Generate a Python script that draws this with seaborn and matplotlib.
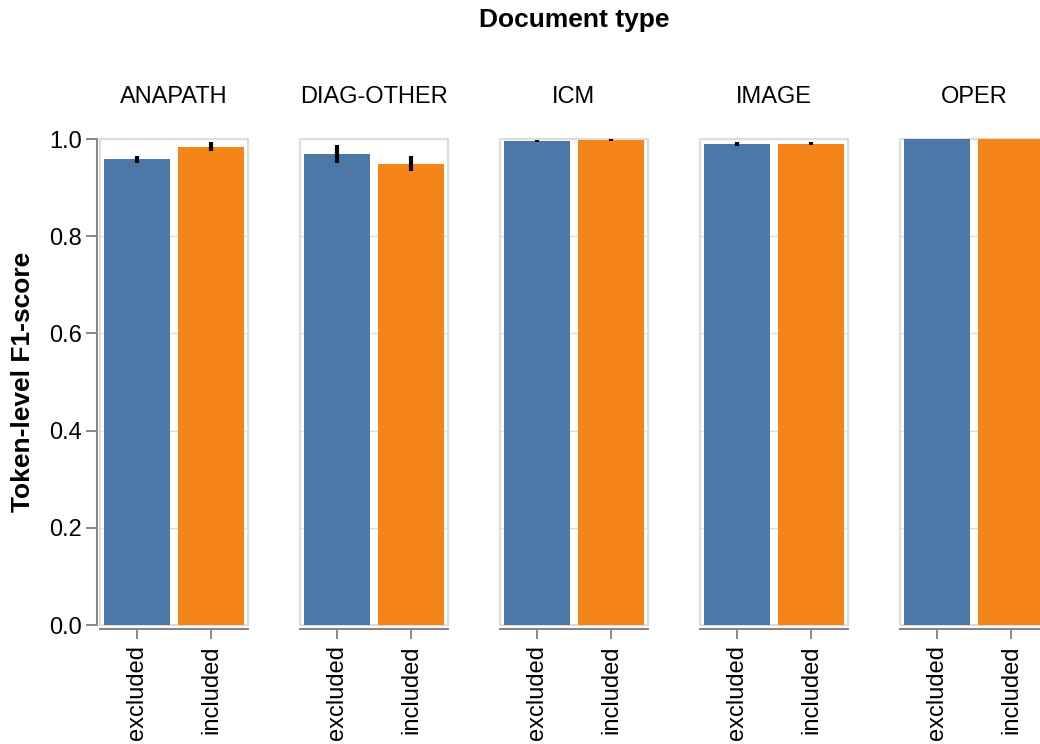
import matplotlib
matplotlib.use("Agg")
import matplotlib.pyplot as plt
from matplotlib.patches import Rectangle
import seaborn as sns
import pandas as pd

# Mean token-level F1 per document type, with confidence interval bounds
doc_types = ["ANAPATH", "DIAG-OTHER", "ICM", "IMAGE", "OPER"]
conditions = ["excluded", "included"]
f1_excluded = [0.959, 0.969, 0.996, 0.990, 1.000]
f1_included = [0.984, 0.949, 0.998, 0.990, 1.000]
ci_low_excluded = [0.951, 0.950, 0.994, 0.986, 1.000]
ci_high_excluded = [0.965, 0.988, 0.998, 0.994, 1.000]
ci_low_included = [0.976, 0.934, 0.996, 0.987, 1.000]
ci_high_included = [0.993, 0.965, 1.000, 0.993, 1.000]

colors = {"excluded": "#4c78a8", "included": "#f58518"}

sns.set_theme(style="white")
plt.rcParams["font.family"] = ["Liberation Sans", "DejaVu Sans"]
plt.rcParams["text.color"] = "black"
plt.rcParams["axes.labelcolor"] = "black"
plt.rcParams["axes.titlecolor"] = "black"

W, H = 1040, 744
fig = plt.figure(figsize=(W / 100, H / 100), dpi=100)

panel_w, panel_h = 148, 486
panel_top, first_left, step = 139, 100, 200

AXIS_GREY = "#888888"
FRAME_GREY = "#dddddd"

for i, dt in enumerate(doc_types):
    left = first_left + i * step
    ax = fig.add_axes([left / W, (H - panel_top - panel_h) / H, panel_w / W, panel_h / H])
    df = pd.DataFrame({
        "condition": conditions,
        "f1": [f1_excluded[i], f1_included[i]],
        "lo": [ci_low_excluded[i], ci_low_included[i]],
        "hi": [ci_high_excluded[i], ci_high_included[i]],
    })
    sns.barplot(data=df, x="condition", y="f1", hue="condition", order=conditions,
                hue_order=conditions, palette=colors, errorbar=None, width=0.9,
                saturation=1, legend=False, linewidth=0, ax=ax, zorder=2)
    ax.vlines(range(len(conditions)), df["lo"], df["hi"], colors="black",
              linewidth=3, zorder=3)

    ax.set_xlim(-0.5, 1.5)
    ax.set_ylim(0, 1)
    ax.set_yticks([0, 0.2, 0.4, 0.6, 0.8, 1.0])
    ax.grid(axis="y", color=FRAME_GREY, linewidth=1.0, zorder=0)
    ax.set_axisbelow(True)
    ax.set_xlabel("")
    ax.set_ylabel("")

    # light view frame
    for s in ax.spines.values():
        s.set_visible(False)
    ax.add_patch(Rectangle((0, 0), 1, 1, transform=ax.transAxes, fill=False,
                           edgecolor=FRAME_GREY, linewidth=1.5, zorder=1,
                           clip_on=False))

    # bottom axis line
    ax.spines["bottom"].set_visible(True)
    ax.spines["bottom"].set_color(AXIS_GREY)
    ax.spines["bottom"].set_linewidth(1.5)
    ax.spines["bottom"].set_position(("outward", 3))
    ax.tick_params(axis="x", bottom=True, length=7.5, width=1.4, color=AXIS_GREY,
                   labelsize=17, pad=4, labelcolor="black")
    ax.set_xticks(range(len(conditions)))
    ax.set_xticklabels(conditions, rotation=90)

    if i == 0:
        ax.spines["left"].set_visible(True)
        ax.spines["left"].set_color(AXIS_GREY)
        ax.spines["left"].set_linewidth(1.5)
        ax.spines["left"].set_position(("outward", 2))
        ax.tick_params(axis="y", left=True, length=8, width=1.4, color=AXIS_GREY,
                       labelsize=17, pad=3, labelcolor="black")
        ax.set_yticklabels([f"{v:.1f}" for v in ax.get_yticks()])
        ax.set_ylabel("Token-level F1-score", fontsize=19, fontweight="bold",
                      labelpad=10)
    else:
        ax.tick_params(axis="y", left=False, labelleft=False)

    ax.set_title(dt, fontsize=17, pad=26)

fig.text(574 / W, 1 - 20 / H, "Document type", ha="center", va="center",
         fontsize=19, fontweight="bold")

fig.savefig("out.png", dpi=100)
